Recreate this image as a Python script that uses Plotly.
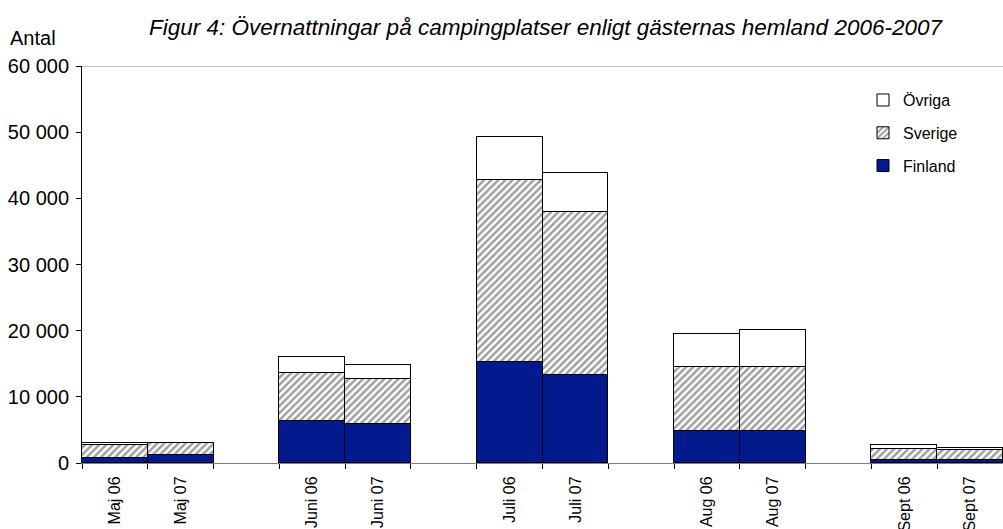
import plotly.graph_objects as go

categories = ["Maj 06", "Maj 07", " ", "Juni 06", "Juni 07", "  ", "Juli 06", "Juli 07", "   ",
              "Aug 06", "Aug 07", "    ", "Sept 06", "Sept 07"]
finland = [750, 1200, None, 6350, 5850, None, 15200, 13300, None, 4850, 4850, None, 450, 450]
sverige = [1950, 1750, None, 7200, 6800, None, 27550, 24570, None, 9700, 9700, None, 1620, 1510]
ovriga = [250, 100, None, 2450, 2150, None, 6450, 6030, None, 4890, 5590, None, 600, 240]
y_ticks = [0, 10000, 20000, 30000, 40000, 50000, 60000]

FONT = "Liberation Sans, Arial, sans-serif"
line = dict(color="black", width=1)

fig = go.Figure()
fig.add_trace(go.Bar(x=categories, y=finland, name="Finland", legendgroup="f", legendrank=3,
                     marker=dict(color="#021A8E", line=line)))
fig.add_trace(go.Bar(x=categories, y=sverige, name="Sverige", legendgroup="s", legendrank=2,
                     marker=dict(color="white", line=line,
                                 pattern=dict(shape="/", fgcolor="#404040", bgcolor="white",
                                              size=5, solidity=0.5))))
fig.add_trace(go.Bar(x=categories, y=ovriga, name="Övriga", legendgroup="o", legendrank=1,
                     marker=dict(color="white", line=line)))

fig.update_layout(
    barmode="stack", bargap=0,
    width=1003, height=529,
    margin=dict(l=82, r=0, t=66, b=66),
    paper_bgcolor="white", plot_bgcolor="white",
    font=dict(family=FONT, size=16, color="black"),
    separators=", ",
    showlegend=True,
    legend=dict(x=0.848, y=0.957, xanchor="left", yanchor="top",
                traceorder="grouped", tracegroupgap=9,
                font=dict(size=16), bgcolor="rgba(0,0,0,0)"),
    xaxis=dict(type="category", tickson="boundaries", ticks="outside", ticklen=5,
               tickcolor="black", tickangle=-90, showline=True, linecolor="#808080",
               linewidth=1, showgrid=False, tickfont=dict(size=16), automargin=False,
               ticklabelstandoff=6),
    yaxis=dict(range=[0, 60000], tickvals=y_ticks, tickformat=",d", ticks="outside",
               ticklen=5, tickcolor="black", showline=True, linecolor="black", linewidth=1,
               showgrid=False, zeroline=False, tickfont=dict(size=20), automargin=False,
               ticklabelstandoff=3),
)
fig.add_shape(type="line", xref="paper", yref="y", x0=0, x1=1, y0=60000, y1=60000,
              line=dict(color="#808080", width=1))
fig.add_annotation(text="<i>Figur 4: Övernattningar på campingplatser enligt gästernas hemland 2006-2007</i>",
                   xref="paper", yref="paper", x=0.504, y=1.0, yshift=39, xanchor="center",
                   yanchor="middle", showarrow=False, font=dict(size=22.5))
fig.add_annotation(text="Antal", xref="paper", yref="paper", x=0, y=1.0, xshift=-74, yshift=28,
                   xanchor="left", yanchor="middle", showarrow=False, font=dict(size=20))

fig.write_html("out.html", config={"displayModeBar": False},
               post_script="document.body.style.margin='0';document.body.style.overflow='hidden';")
